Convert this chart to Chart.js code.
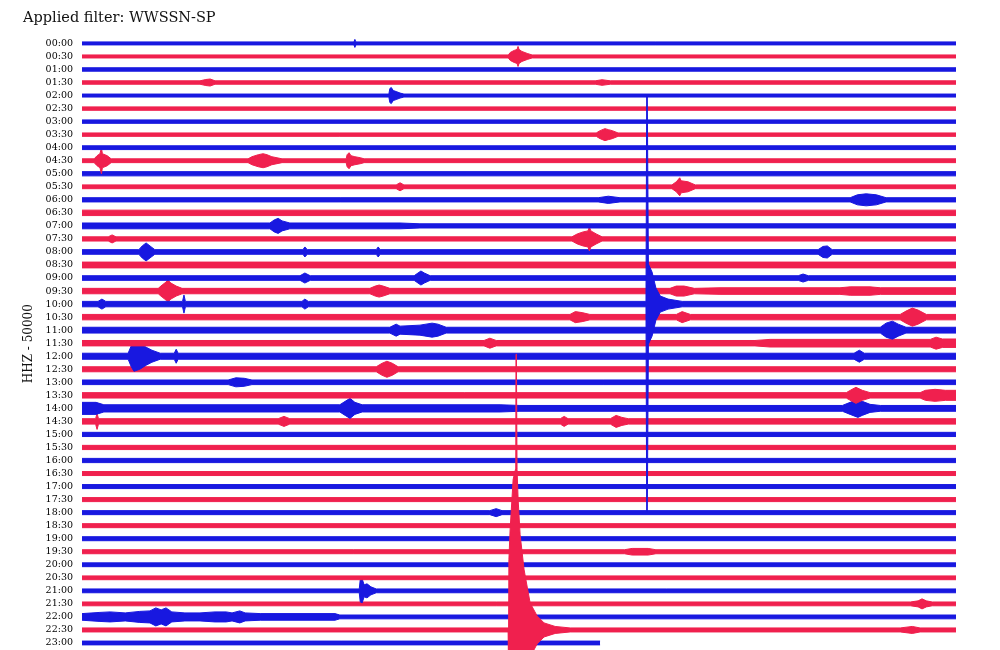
<!DOCTYPE html>
<html><head><meta charset="utf-8">
<script src="https://cdn.jsdelivr.net/npm/chart.js@4/dist/chart.umd.min.js"></script>
<style>html,body{margin:0;padding:0;background:#fff}#wrap{width:1000px;height:650px}</style>
</head><body><div id="wrap"><canvas id="c" width="1000" height="650"></canvas></div>
<script>
const TITLE = 'Applied filter: WWSSN-SP';
const AXIS_LABEL = 'HHZ - 50000';
const ROW_LABELS = ['00:00','00:30','01:00','01:30','02:00','02:30','03:00','03:30','04:00','04:30','05:00','05:30','06:00','06:30','07:00','07:30','08:00','08:30','09:00','09:30','10:00','10:30','11:00','11:30','12:00','12:30','13:00','13:30','14:00','14:30','15:00','15:30','16:00','16:30','17:00','17:30','18:00','18:30','19:00','19:30','20:00','20:30','21:00','21:30','22:00','22:30','23:00'];
const ROW_COLORS = ['#1818e0', '#f0204e'];
const ROW_STEP = 13;            // amplitude units between row baselines
const ROW_SECONDS = 1800;       // each row spans 30 minutes
const LAST_ROW_END = 1067;      // the 23:00 row stops part way
// noise half-amplitude of each row
const ROW_BASE = [1.5,1.5,1.7,1.7,1.5,1.7,1.7,1.7,1.9,1.9,2.1,1.9,2.1,2.7,2.1,2.1,2.3,2.9,2.3,2.7,2.7,2.7,2.9,2.7,3,2.5,2.3,2.7,2.9,2.7,2.1,2.1,2.1,2,2,2,2,2,2,2,1.9,1.9,1.9,1.9,1.9,2,1.9];
// envelope knots [second, half-amplitude] where a row departs from its noise level
const ROW_EVENTS = [
  [[560,1.5],[562,4],[564,1.5]],
  [[878,1.5],[882,4],[890,6],[896,7],[898,10],[900,7],[906,5],[917,3],[927,1.5]],
  [],
  [[243,1.7],[255,3],[264,3.5],[274,1.7],[1057,1.7],[1071,2.8],[1088,1.7]],
  [[632,1.5],[634,7],[637,8],[641,5],[647,4],[655,2.5],[663,1.5]],
  [],
  [],
  [[1059,1.7],[1067,4],[1077,6],[1084,5],[1092,4],[1104,1.7]],
  [],
  [[25,1.9],[31,5],[37,7],[40,13],[42,7],[52,5],[60,1.9],[342,1.9],[350,4],[363,6],[373,7],[381,6],[391,4],[412,1.9],[544,1.9],[546,6],[550,8],[554,5],[562,4],[573,3],[581,1.9]],
  [],
  [[647,1.9],[655,4],[663,1.9],[1215,1.9],[1224,5],[1231,9],[1234,6],[1248,5],[1263,1.9]],
  [[1063,2.1],[1084,3.6],[1108,2.1],[1582,2.1],[1597,5],[1615,6],[1636,5],[1656,2.1]],
  [],
  [[0,2.9],[387,2.9],[396,6],[404,7.5],[412,5],[428,2.9],[655,2.9],[696,2.1]],
  [[54,2.1],[62,4],[70,2.1],[1009,2.1],[1020,5],[1032,7],[1042,8],[1045,12],[1048,8],[1059,5],[1071,2.1]],
  [[117,2.3],[124,6],[132,9],[140,6],[150,2.3],[455,2.3],[459,5],[464,2.3],[606,2.3],[610,5],[614,2.3],[1516,2.3],[1526,5.5],[1535,6],[1545,2.3]],
  [],
  [[449,2.3],[459,5],[470,2.3],[684,2.3],[692,5],[698,7],[705,5],[717,2.3],[1475,2.3],[1485,4],[1496,2.3]],
  [[157,2.7],[165,6],[173,9],[177,11],[183,8],[194,5],[206,2.7],[593,2.7],[604,5],[612,6],[620,5],[634,2.7],[1211,2.7],[1224,5],[1240,5],[1261,2.7],[1314,3.3],[1561,3.3],[1582,4.2],[1623,4.2],[1644,3.3],[1800,3.3]],
  [[33,2.7],[41,5],[49,2.7],[207,2.7],[210,9],[213,2.7],[453,2.7],[459,5],[466,2.7],[1161.5,2.7],[1163,207],[1164.2,207],[1166.5,40],[1174,32],[1182,16],[1191,8],[1207,5],[1236,2.7]],
  [[1005,2.7],[1016,5.5],[1030,4.5],[1046,2.7],[1224,2.7],[1236,5.5],[1253,2.7],[1685,2.7],[1697,6],[1710,9],[1722,7],[1739,2.7]],
  [[634,2.9],[647,6],[655,4],[696,5],[721,7],[733,6],[750,2.9],[1644,2.9],[1656,7],[1669,9],[1681,6],[1697,2.9]],
  [[828,2.7],[840,5],[853,2.7],[1386,2.7],[1417,3.8],[1747,3.8],[1759,6],[1772,4.2],[1800,4.2]],
  [[95,3],[101,10],[107,15],[119,13],[132,9],[144,6],[161,3],[190,3],[194,7],[198,3],[1590,3],[1601,6],[1611,3]],
  [[606,2.5],[618,6],[628,8],[639,6],[651,2.5]],
  [[301,2.3],[317,4.5],[334,4],[350,2.3]],
  [[1574,2.7],[1586,6],[1594,8],[1607,5],[1623,2.7],[1726,2.7],[1737,5],[1757,6],[1778,5],[1800,5]],
  [[0,6],[29,6],[45,3.6],[531,3.6],[542,7],[552,10],[562,6],[577,3.6],[861,3.6],[902,2.9],[1566,2.9],[1582,6],[1598,9],[1607,7],[1623,4],[1644,2.9]],
  [[28,2.7],[31,8],[34,2.7],[404,2.7],[416,5],[428,2.7],[985,2.7],[993,5],[1001,2.7],[1088,2.7],[1100,6],[1112,4],[1125,2.7]],
  [],
  [],
  [],
  [],
  [],
  [],
  [[840,2],[853,4],[865,2]],
  [],
  [],
  [[1117,2],[1133,3.3],[1166,3.3],[1182,2]],
  [],
  [],
  [[571,1.9],[573,11],[577,12],[581,6],[587,7],[595,4],[606,1.9]],
  [[1706,1.9],[1722,3],[1730,5],[1739,3],[1751,1.9]],
  [[0,3.3],[37,4.5],[58,5],[89,4],[119,5.5],[140,6],[152,9],[163,7],[173,9],[185,5],[212,4],[243,4],[274,5],[297,5],[309,4],[325,6],[336,4],[367,3.3],[521,3.3],[531,1.9]],
  [[877.6,2],[879.2,70],[881.7,100],[887.9,150],[892.6,160],[893.8,275],[894.6,275],[896,160],[898.2,130],[902.3,95],[910.5,60],[922.9,27],[937.3,14],[951.7,7],[974.4,3.5],[1005.3,2],[1685,2],[1710,3.5],[1726,2]],
  []
];

function rowKnots(i) {
  const end = i === ROW_LABELS.length - 1 ? LAST_ROW_END : ROW_SECONDS;
  const k = ROW_EVENTS[i].slice();
  if (!k.length || k[0][0] > 0) k.unshift([0, ROW_BASE[i]]);
  if (k[k.length - 1][0] < end) k.push([end, k[k.length - 1][1]]);
  return k;
}

const datasets = [];
ROW_LABELS.forEach((lab, i) => {
  const c = i * ROW_STEP;
  const col = ROW_COLORS[i % 2];
  const knots = rowKnots(i);
  const big = knots.some(p => p[1] > 50);
  const common = {borderColor: col, backgroundColor: col, borderWidth: 1, pointRadius: 0, tension: 0, order: big ? -1 : 0};
  datasets.push(Object.assign({label: lab + ' +', data: knots.map(p => ({x: p[0], y: c - p[1]})), fill: false}, common));
  datasets.push(Object.assign({label: lab + ' -', data: knots.map(p => ({x: p[0], y: c + p[1]})), fill: '-1'}, common));
});

new Chart(document.getElementById('c'), {
  type: 'line',
  data: {datasets},
  options: {
    responsive: false, animation: false, devicePixelRatio: 1,
    layout: {padding: {left: 23, right: 44, top: 0, bottom: 0}},
    plugins: {
      legend: {display: false}, tooltip: {enabled: false},
      title: {display: true, text: TITLE, align: 'start', color: '#111',
        font: {family: 'DejaVu Serif', size: 14.5, weight: 'normal'}, padding: {top: 10, bottom: 10}}
    },
    scales: {
      x: {type: 'linear', min: 0, max: ROW_SECONDS, display: false},
      y: {type: 'linear', reverse: true, min: -6, max: 605,
        grid: {display: false, drawTicks: false}, border: {display: false},
        afterBuildTicks: s => { s.ticks = ROW_LABELS.map((_, i) => ({value: i * ROW_STEP})); },
        afterFit: s => { s.width = 59; s.paddingTop = 0; s.paddingBottom = 0; },
        ticks: {padding: 9, autoSkip: false, color: '#000', font: {family: 'DejaVu Serif', size: 9.5},
          callback: v => ROW_LABELS[Math.round(v / ROW_STEP)]},
        title: {display: true, text: AXIS_LABEL, color: '#111', padding: {top: 0, bottom: 0},
          font: {family: 'DejaVu Serif', size: 12, lineHeight: 1}}
      }
    }
  }
});
</script></body></html>
